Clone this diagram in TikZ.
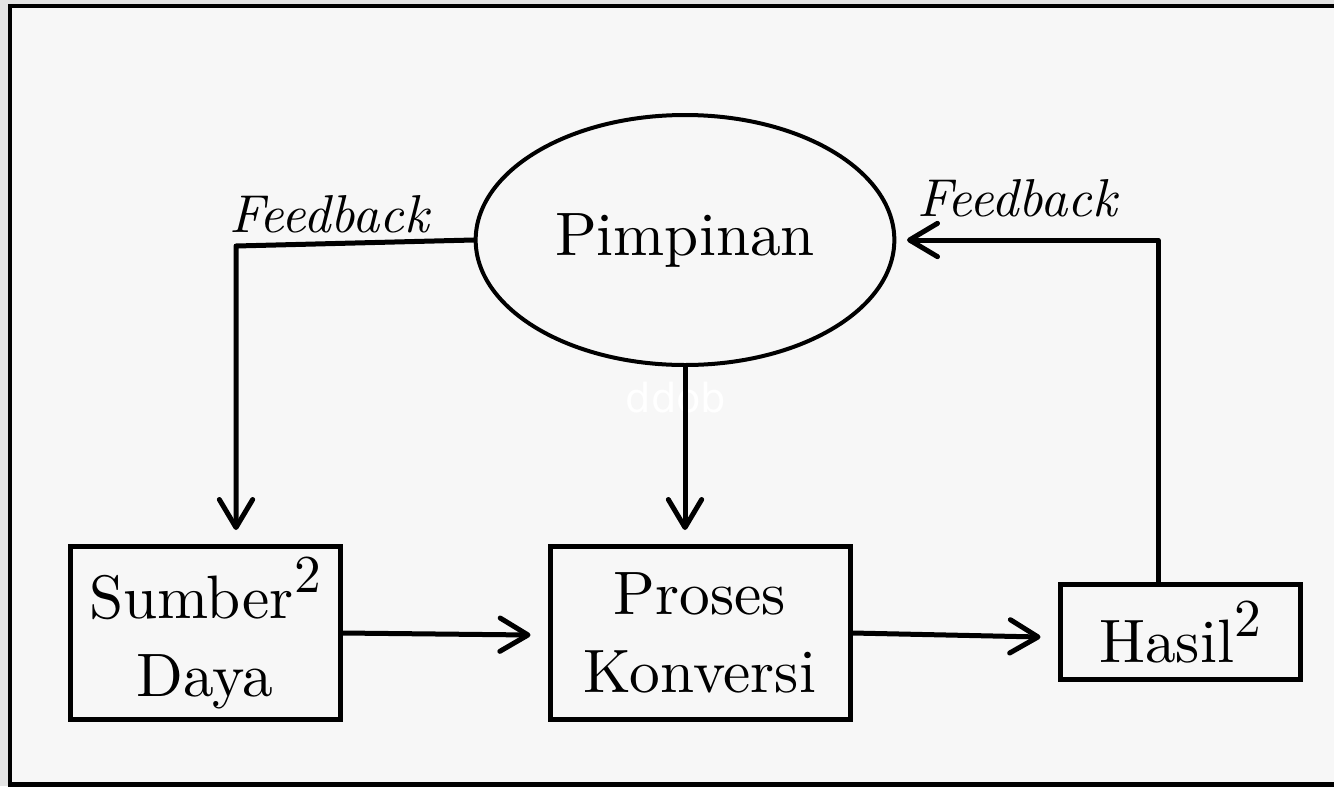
\documentclass[tikz,border=0pt]{standalone}
\usepackage{fontspec}
\setmainfont{lmroman10-regular.otf}[ItalicFont=lmroman10-italic.otf,BoldFont=lmroman10-bold.otf,BoldItalicFont=lmroman10-bolditalic.otf]
\newfontfamily\wmfont{DejaVu Sans}
\usetikzlibrary{arrows.meta,shapes.geometric,calc}
\begin{document}
\begin{tikzpicture}[x=0.75pt,y=-0.75pt,
  lbl/.style={font=\fontsize{46}{58.5}\selectfont},
  box/.style={draw,line width=3.75pt,inner sep=0pt,align=center,lbl},
  oval/.style={ellipse,draw,line width=3pt,inner sep=0pt,lbl},
  conn/.style={line width=3.75pt,line cap=round,line join=round},
  arr/.style={conn,-{Straight Barb[length=21pt,width=25pt,round]}},
  fb/.style={font=\fontsize{40}{44}\selectfont\itshape,anchor=base,inner sep=0pt}]
\newcommand{\sqr}{\raisebox{19pt}{\fontsize{40}{40}\selectfont 2}}
\useasboundingbox (0,0) rectangle (1334,786);
\fill[gray!22] (0,0) rectangle (1334,786);
\draw[line width=3.2pt,fill=black!3] (10,5.7) rectangle (1345,784.5);
% nodes
\node[oval,minimum width=314pt,minimum height=187.5pt] (pim) at (685,240) {Pimpinan};
\node[box,minimum width=202.5pt,minimum height=130pt] (sumber) at (205,633) {Sumber\sqr\\Daya};
\node[box,minimum width=225pt,minimum height=130pt] (proses) at (700,633) {Proses\\Konversi};
\node[box,minimum width=180pt,minimum height=71.6pt] (hasil) at (1180,632) {Hasil\sqr};
\node[fb] (fbl) at (329,232) {Feedback};
\node[fb] (fbr) at (1017,216) {Feedback};
\node[anchor=base,inner sep=0pt,text=white,font=\wmfont\fontsize{30}{30}\selectfont] (wm) at (676,412) {ddob};
% coordinates
\coordinate (c1) at (236,246);
\coordinate (t1) at (236,530);
\coordinate (t2) at (685,530);
\coordinate (c2) at (1158,240);
\coordinate (t4) at (907,240);
% connectors
\draw[arr] (pim.west) -- (c1) -- (t1);
\draw[arr] (pim.south) -- (t2);
\draw[arr] (sumber.east) -- ($(proses.west)+(-17,2)$);
\draw[arr] (proses.east) -- ($(hasil.west)+(-17,5)$);
\draw[arr] ($(hasil.north)+(-22,0)$) -- (c2) -- (t4);
\end{tikzpicture}
\end{document}
